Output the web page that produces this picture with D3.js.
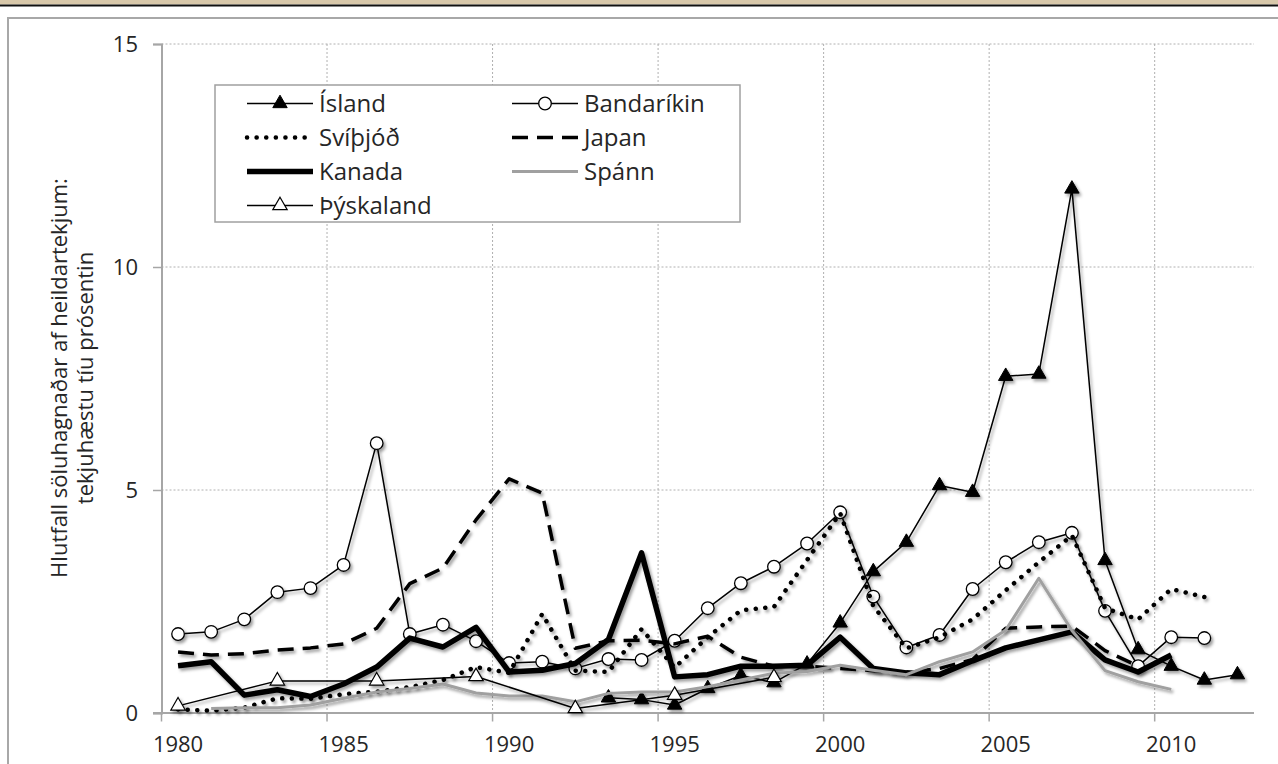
<!DOCTYPE html>
<html>
<head>
<meta charset="utf-8">
<script src="https://cdn.jsdelivr.net/npm/d3@7"></script>
<style>
  body { margin: 0; background: #fff; }
  text { font-family: "Open Sans", sans-serif; fill: #262626; }
</style>
</head>
<body>
<div id="chart"></div>
<script>
// categories
var years = [1980, 1981, 1982, 1983, 1984, 1985, 1986, 1987, 1988, 1989,
             1990, 1991, 1992, 1993, 1994, 1995, 1996, 1997, 1998, 1999,
             2000, 2001, 2002, 2003, 2004, 2005, 2006, 2007, 2008, 2009,
             2010, 2011, 2012];
var yearLabels = [1980, 1985, 1990, 1995, 2000, 2005, 2010];
var yTicks = [0, 5, 10, 15];

// series values (null = no value)
var island = [null, null, null, null, null, null, null, null, null, null,
              null, null, null, 0.34, 0.3, 0.18, 0.55, 0.84, 0.68, 1.1,
              2.02, 3.17, 3.83, 5.1, 4.95, 7.55, 7.6, 11.75, 3.42, 1.42,
              1.05, 0.74, 0.86];
var bandarikin = [1.77, 1.82, 2.1, 2.71, 2.8, 3.32, 6.05, 1.77, 1.98, 1.61,
                  1.12, 1.15, 1.0, 1.21, 1.19, 1.62, 2.35, 2.91, 3.28, 3.8,
                  4.5, 2.61, 1.47, 1.75, 2.78, 3.38, 3.83, 4.04, 2.29, 1.05,
                  1.7, 1.68, null];
var svithjod = [0.08, 0.05, 0.12, 0.33, 0.32, 0.42, 0.48, 0.58, 0.74, 1.03,
                0.9, 2.22, 0.95, 0.92, 1.88, 1.02, 1.7, 2.3, 2.38, 3.43,
                4.48, 2.4, 1.45, 1.7, 2.1, 2.75, 3.38, 3.98, 2.35, 2.1,
                2.78, 2.6, null];
var japan = [1.37, 1.3, 1.33, 1.41, 1.46, 1.55, 1.9, 2.9, 3.25, 4.33,
             5.25, 4.93, 1.45, 1.62, 1.63, 1.55, 1.72, 1.25, 1.05, 1.05,
             1.0, 0.95, 0.9, 1.0, 1.2, 1.9, 1.93, 1.95, 1.4, 1.05,
             null, null, null];
var kanada = [1.06, 1.15, 0.4, 0.52, 0.37, 0.65, 1.03, 1.68, 1.48, 1.92,
              0.92, 0.96, 1.11, 1.65, 3.59, 0.81, 0.86, 1.05, 1.05, 1.07,
              1.7, 1.0, 0.9, 0.86, 1.17, 1.46, 1.64, 1.82, 1.19, 0.92,
              1.3, null, null];
var spann = [null, 0.1, 0.12, 0.12, 0.18, 0.33, 0.47, 0.55, 0.65, 0.45,
             0.38, 0.38, 0.25, 0.44, 0.47, 0.47, 0.59, 0.74, 0.89, 0.93,
             1.07, 0.96, 0.86, 1.15, 1.37, 1.86, 3.02, 1.85, 0.95, 0.7,
             0.53, null, null];
var thyskaland = [0.16, null, null, 0.72, null, null, 0.72, null, null, 0.82,
                  null, null, 0.1, null, null, 0.4, null, null, 0.8, null,
                  null, null, null, null, null, null, null, null, null, null,
                  null, null, null];

var width = 1278, height = 764;

var svg = d3.select('#chart')
    .append('svg')
    .attr('width', width)
    .attr('height', height);

//shadow like the excel lines
var defs = svg.append('defs');
defs.append('filter')
    .attr('id', 'shadow')
    .attr('x', '-20%').attr('y', '-20%')
    .attr('width', '140%').attr('height', '140%')
    .append('feDropShadow')
    .attr('dx', 2).attr('dy', 2.5)
    .attr('stdDeviation', 1.8)
    .attr('flood-color', '#000')
    .attr('flood-opacity', 0.38);

//frame and top strip
svg.append('rect').attr('x', 0).attr('y', 0).attr('width', width).attr('height', 4.5).style('fill', '#d8c8aa');
svg.append('line').attr('x1', 0).attr('x2', width).attr('y1', 5.5).attr('y2', 5.5)
    .style('stroke', '#111').style('stroke-width', 2);
svg.append('rect').attr('x', 8).attr('y', 18).attr('width', width + 20).attr('height', height + 20)
    .style('fill', 'none').style('stroke', '#a8a8a8').style('stroke-width', 2);

//scales
var x = d3.scalePoint()
    .domain(years)
    .range([161.5, 1254])
    .padding(0.5);
var step = x.step();

var y = d3.scaleLinear()
    .domain([0, 15])
    .range([713, 44]);

//gridlines
var grid = svg.append('g');
grid.selectAll('.hgrid')
    .data(yTicks.slice(1))
    .enter().append('line')
    .attr('x1', 161.5).attr('x2', 1254)
    .attr('y1', function(d) { return y(d); })
    .attr('y2', function(d) { return y(d); })
    .style('stroke', '#b0b0b0').style('stroke-dasharray', '2,2');
grid.selectAll('.vgrid')
    .data(yearLabels.slice(1))
    .enter().append('line')
    .attr('x1', function(d) { return x(d) - step / 2; })
    .attr('x2', function(d) { return x(d) - step / 2; })
    .attr('y1', y(15)).attr('y2', y(0))
    .style('stroke', '#b0b0b0').style('stroke-dasharray', '2,2');

//y axis
var yAxis = svg.append('g')
    .attr('transform', 'translate(161.5,0)')
    .call(d3.axisLeft(y).tickValues(yTicks).tickSize(8.5).tickPadding(15));
yAxis.select('.domain').style('stroke', '#a6a6a6').style('stroke-width', 2);
yAxis.selectAll('.tick line').style('stroke', '#a6a6a6').style('stroke-width', 1.5);
yAxis.selectAll('text').style('font-size', '22px').style('font-family', '"Open Sans", sans-serif').style('fill', '#262626');

//x axis
svg.append('line')
    .attr('x1', 153).attr('x2', 1254)
    .attr('y1', y(0)).attr('y2', y(0))
    .style('stroke', '#a6a6a6').style('stroke-width', 2);
svg.selectAll('.xtick')
    .data(yearLabels)
    .enter().append('line')
    .attr('x1', function(d) { return x(d) - step / 2; })
    .attr('x2', function(d) { return x(d) - step / 2; })
    .attr('y1', y(0)).attr('y2', y(0) + 8.5)
    .style('stroke', '#a6a6a6').style('stroke-width', 1.5);
svg.selectAll('.xlabel')
    .data(yearLabels)
    .enter().append('text')
    .attr('x', function(d) { return x(d); })
    .attr('y', 752)
    .attr('text-anchor', 'middle')
    .style('font-size', '22px')
    .text(function(d) { return d; });

//y axis title
svg.append('text')
    .attr('transform', 'translate(67,378) rotate(-90)')
    .attr('text-anchor', 'middle')
    .style('font-size', '22px')
    .text('Hlutfall söluhagnaðar af heildartekjum:');
svg.append('text')
    .attr('transform', 'translate(93,378) rotate(-90)')
    .attr('text-anchor', 'middle')
    .style('font-size', '22px')
    .text('tekjuhæstu tíu prósentin');

//series definitions
var series = [
  {name: 'Ísland', values: island, stroke: '#000', width: 1.5, dash: null, marker: 'triFilled'},
  {name: 'Bandaríkin', values: bandarikin, stroke: '#000', width: 1.5, dash: null, marker: 'circle'},
  {name: 'Svíþjóð', values: svithjod, stroke: '#000', width: 4.5, dash: '0.1,9.5', cap: 'round', marker: null},
  {name: 'Japan', values: japan, stroke: '#000', width: 3.5, dash: '16,9', marker: null},
  {name: 'Kanada', values: kanada, stroke: '#000', width: 5.5, dash: null, marker: null},
  {name: 'Spánn', values: spann, stroke: '#a0a0a0', width: 3, dash: null, marker: null},
  {name: 'Þýskaland', values: thyskaland, stroke: '#000', width: 1.5, dash: null, marker: 'triOpen'}
];

var line = d3.line()
    .x(function(d) { return x(d.year); })
    .y(function(d) { return y(d.value); });

var tri = d3.symbol().type(d3.symbolTriangle).size(90);

function drawMarker(sel, kind) {
  if (kind === 'circle') {
    sel.append('circle').attr('r', 6.3)
        .style('fill', '#fff').style('stroke', '#000').style('stroke-width', 1.3);
  } else if (kind === 'triFilled') {
    sel.append('path').attr('d', tri)
        .style('fill', '#000').style('stroke', '#000').style('stroke-width', 1);
  } else if (kind === 'triOpen') {
    sel.append('path').attr('d', tri)
        .style('fill', '#fff').style('stroke', '#000').style('stroke-width', 1.2);
  }
}

var plot = svg.append('g');
series.forEach(function(s) {
  var pts = years.map(function(yr, i) { return {year: yr, value: s.values[i]}; })
      .filter(function(d) { return d.value != null; });
  var g = plot.append('g').attr('filter', 'url(#shadow)');
  g.append('path')
      .datum(pts)
      .attr('d', line)
      .style('fill', 'none')
      .style('stroke', s.stroke)
      .style('stroke-width', s.width)
      .style('stroke-linejoin', 'round')
      .style('stroke-linecap', s.cap || 'butt')
      .style('stroke-dasharray', s.dash);
  if (s.marker) {
    g.selectAll('.m')
        .data(pts)
        .enter().append('g')
        .attr('transform', function(d) { return 'translate(' + x(d.year) + ',' + y(d.value) + ')'; })
        .each(function() { drawMarker(d3.select(this), s.marker); });
  }
});

//legend
var legend = svg.append('g');
legend.append('rect')
    .attr('x', 215).attr('y', 85).attr('width', 525).attr('height', 137)
    .style('fill', '#fff').style('stroke', '#a0a0a0').style('stroke-width', 1.5);

var legendPos = [[247, 103.5], [512, 103.5], [247, 137.5], [512, 137.5],
                 [247, 171.5], [512, 171.5], [247, 205.5]];

series.forEach(function(s, i) {
  var p = legendPos[i];
  var g = legend.append('g').attr('transform', 'translate(' + p[0] + ',' + p[1] + ')');
  g.append('line')
      .attr('x1', 0).attr('x2', 66).attr('y1', 0).attr('y2', 0)
      .style('stroke', s.stroke)
      .style('stroke-width', s.width)
      .style('stroke-linecap', s.cap || 'butt')
      .style('stroke-dasharray', s.dash);
  if (s.marker) {
    drawMarker(g.append('g').attr('transform', 'translate(33,0)'), s.marker);
  }
  g.append('text')
      .attr('x', 72).attr('y', 0).attr('dy', '0.36em')
      .style('font-size', '24px')
      .text(s.name);
});
</script>
</body>
</html>
